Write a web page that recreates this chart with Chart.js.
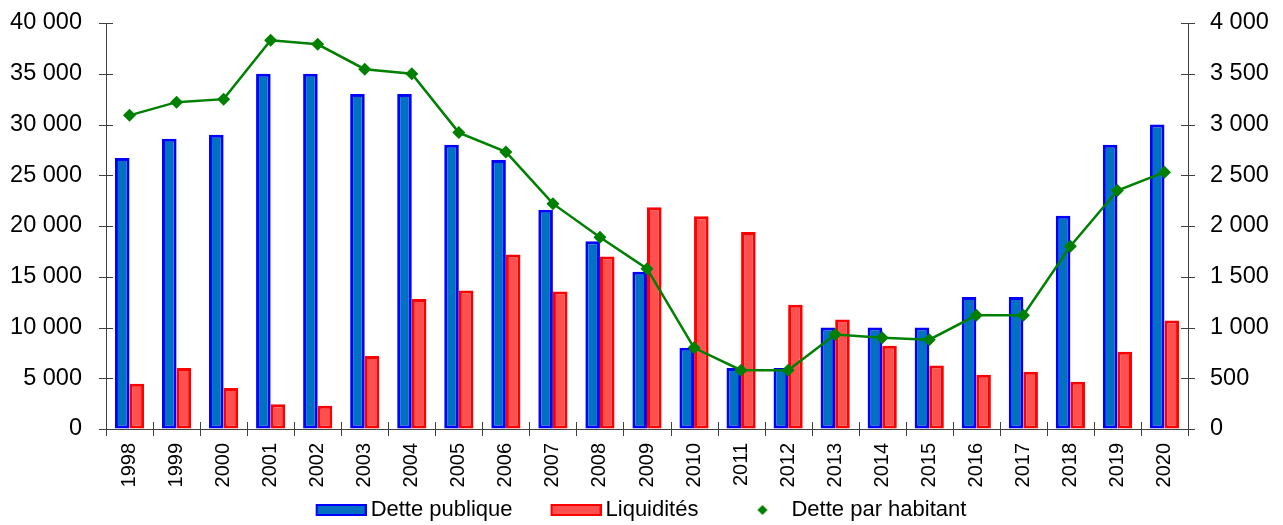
<!DOCTYPE html>
<html>
<head>
<meta charset="utf-8">
<script src="https://cdn.jsdelivr.net/npm/chart.js@4/dist/chart.umd.min.js"></script>
<style>
  html, body { margin: 0; padding: 0; background: #fff; }
  #wrap { width: 1283px; height: 525px; position: relative; }
</style>
</head>
<body>
<div id="wrap"><canvas id="chart"></canvas></div>
<script>
const years = ['1998', '1999', '2000', '2001', '2002', '2003', '2004', '2005', '2006', '2007', '2008', '2009',
  '2010', '2011', '2012', '2013', '2014', '2015', '2016', '2017', '2018', '2019', '2020'];
const dettePublique = [26700, 28600, 29000, 35000, 35000, 33000, 33000, 28000, 26500, 21600, 18500, 15500,
  8000, 6000, 6000, 10000, 10000, 10000, 13000, 13000, 21000, 28000, 30000];
const liquidites = [4450, 6000, 4050, 2450, 2300, 7200, 12800, 13650, 17200, 13550, 17000, 21850,
  20950, 19400, 12250, 10800, 8200, 6250, 5350, 5650, 4650, 7600, 10700];
const detteParHabitant = [3090, 3220, 3250, 3830, 3790, 3545, 3500, 2920, 2730, 2220, 1890, 1580,
  800, 580, 580, 930, 900, 880, 1120, 1120, 1800, 2350, 2530];

const FONT = "'Liberation Sans', Arial, sans-serif";
const AXIS = '#404040';
const NONE = 'rgba(0,0,0,0)';

function spaced(v) {
  return String(v).replace(/\B(?=(\d{3})+(?!\d))/g, ' ');
}

// icônes de légende dessinées dans un canvas : 29 px de vide à gauche
// (écart entre les entrées), puis le rectangle de 50 px ou le losange
function legendIcon(fill, stroke, diamond) {
  const c = document.createElement('canvas');
  c.width = 86; c.height = 14;
  const g = c.getContext('2d');
  g.fillStyle = fill;
  if (diamond) {
    g.beginPath();
    g.moveTo(61, 2); g.lineTo(66, 7); g.lineTo(61, 12); g.lineTo(56, 7);
    g.closePath();
    g.fill();
  } else {
    g.fillRect(36, 2, 49, 10);
    g.strokeStyle = stroke;
    g.lineWidth = 2;
    g.strokeRect(36, 2, 49, 10);
  }
  return c;
}

// graduations des trois axes, de part et d'autre de l'axe
const axisTicks = {
  id: 'axisTicks',
  afterLayout(chart) {
    // recentre la partie visible de la légende (le vide de tête de la 1re entrée)
    chart.legend.left -= 14.5;
    chart.legend.right -= 14.5;
  },
  afterDatasetsDraw(chart) {
    const { ctx, chartArea, scales } = chart;
    const len = 7;
    ctx.save();
    ctx.strokeStyle = AXIS;
    ctx.lineWidth = 1;
    ctx.beginPath();
    scales.y.ticks.forEach((t, i) => {
      const y = Math.round(scales.y.getPixelForTick(i)) + 0.5;
      ctx.moveTo(chartArea.left - len, y); ctx.lineTo(chartArea.left + len, y);
    });
    scales.y1.ticks.forEach((t, i) => {
      const y = Math.round(scales.y1.getPixelForTick(i)) + 0.5;
      ctx.moveTo(chartArea.right - len, y); ctx.lineTo(chartArea.right + len, y);
    });
    const step = (scales.x.right - scales.x.left) / years.length;
    for (let i = 0; i <= years.length; i++) {
      const x = Math.round(scales.x.left + i * step) + 0.5;
      ctx.moveTo(x, chartArea.bottom - len); ctx.lineTo(x, chartArea.bottom + len);
    }
    ctx.stroke();
    ctx.restore();
  },
};

new Chart(document.getElementById('chart'), {
  type: 'bar',
  data: {
    labels: years,
    datasets: [
      {
        label: 'Dette publique',
        data: dettePublique,
        backgroundColor: '#0070C0',
        borderColor: '#0000FF',
        borderWidth: 3,
        borderSkipped: false,
        barPercentage: 1,
        categoryPercentage: 0.62,
        yAxisID: 'y',
        order: 1,
      },
      {
        label: 'Liquidités',
        data: liquidites,
        backgroundColor: '#FF5050',
        borderColor: '#FF0000',
        borderWidth: 3,
        borderSkipped: false,
        barPercentage: 1,
        categoryPercentage: 0.62,
        yAxisID: 'y',
        order: 1,
      },
      {
        type: 'line',
        label: 'Dette par habitant',
        data: detteParHabitant,
        borderColor: '#008000',
        backgroundColor: '#008000',
        borderWidth: 2.5,
        pointStyle: 'rectRot',
        pointRadius: 6.5,
        pointBorderWidth: 0,
        tension: 0,
        yAxisID: 'y1',
        order: 0,
      },
    ],
  },
  options: {
    responsive: true,
    maintainAspectRatio: false,
    animation: false,
    layout: { padding: { top: 23, left: 0, right: 0, bottom: -6 } },
    plugins: {
      tooltip: { enabled: false },
      legend: {
        position: 'bottom',
        labels: {
          usePointStyle: true,
          pointStyleWidth: 72,
          boxHeight: 12,
          padding: 10,
          color: '#000',
          font: { family: FONT, size: 22 },
          sort: (a, b) => a.datasetIndex - b.datasetIndex,
          generateLabels(chart) {
            const items = Chart.defaults.plugins.legend.labels.generateLabels(chart);
            items.forEach((it) => {
              if (it.datasetIndex === 0) it.pointStyle = legendIcon('#0070C0', '#0000FF');
              if (it.datasetIndex === 1) it.pointStyle = legendIcon('#FF5050', '#FF0000');
              if (it.datasetIndex === 2) it.pointStyle = legendIcon('#008000', null, true);
            });
            return items;
          },
        },
      },
    },
    scales: {
      x: {
        grid: { drawOnChartArea: false, tickLength: 7, tickColor: NONE },
        border: { display: true, color: AXIS },
        ticks: {
          minRotation: 90,
          maxRotation: 90,
          color: '#000',
          padding: 7,
          font: { family: FONT, size: 20 },
        },
        afterFit(scale) { scale.height = 60; },
      },
      y: {
        position: 'left',
        min: 0,
        max: 40000,
        ticks: {
          stepSize: 5000,
          color: '#000',
          padding: 8,
          font: { family: FONT, size: 23.5 },
          callback: (v) => spaced(v),
        },
        grid: { drawOnChartArea: false, tickLength: 16, tickColor: NONE },
        border: { display: true, color: AXIS },
        afterFit(scale) { scale.width = 106; },
      },
      y1: {
        position: 'right',
        min: 0,
        max: 4000,
        ticks: {
          stepSize: 500,
          color: '#000',
          padding: 8,
          font: { family: FONT, size: 23.5 },
          callback: (v) => spaced(v),
        },
        grid: { drawOnChartArea: false, tickLength: 14, tickColor: NONE },
        border: { display: true, color: AXIS },
        afterFit(scale) { scale.width = 95; },
      },
    },
  },
  plugins: [axisTicks],
});
</script>
</body>
</html>
